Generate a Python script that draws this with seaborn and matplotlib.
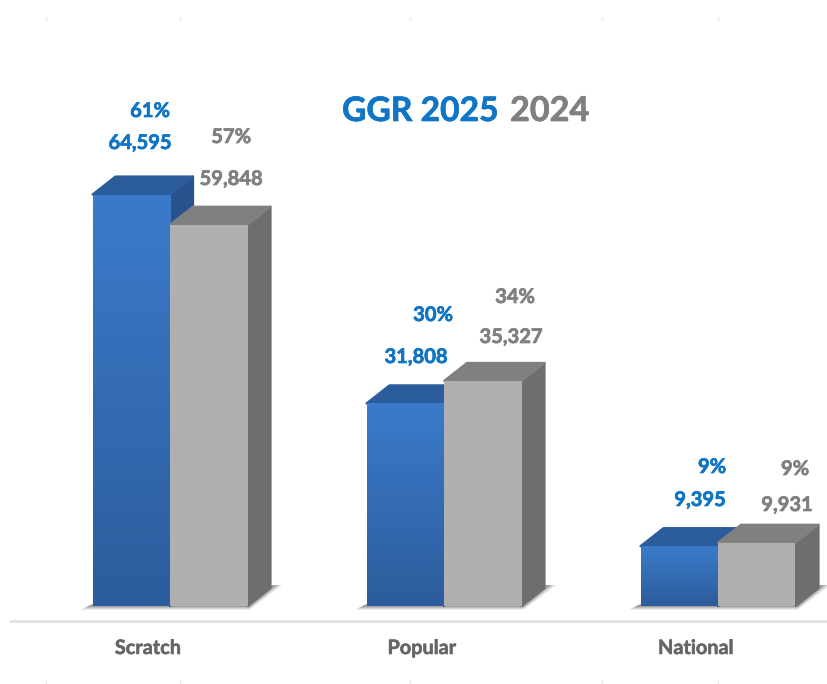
"""GGR 2025 vs 2024 by game, drawn as fake-3D columns on a seaborn bar chart."""

import matplotlib.patheffects as pe
import matplotlib.pyplot as plt
import numpy as np
import pandas as pd
import seaborn as sns
from matplotlib.colors import LinearSegmentedColormap
from matplotlib.patches import Polygon
from matplotlib.transforms import Affine2D

games = ["Scratch", "Popular", "National"]
ggr_2025 = [64595, 31808, 9395]
ggr_2024 = [59848, 35327, 9931]
share_2025 = ["61%", "30%", "9%"]
share_2024 = ["57%", "34%", "9%"]
value_labels_2025 = ["64,595", "31,808", "9,395"]
value_labels_2024 = ["59,848", "35,327", "9,931"]

W, H = 827, 684
BASE_Y = 606
PX_PER_UNIT = 0.00637
FIRST_X = 170
STEP_X = 274
DEPTH_X, DEPTH_Y = 23, 18

BLUE = "#0f75c4"
GREY = "#808080"
STYLES = {
    "2025": dict(side="#27528c", top="#2b5c9c", order=2),
    "2024": dict(side="#6e6e6e", top="#808080", order=4),
}


def main() -> None:
    sns.set_theme(style="white")
    plt.rcParams["font.family"] = ["Lato", "DejaVu Sans"]

    df = pd.DataFrame(
        {
            "game": games * 2,
            "ggr": ggr_2025 + ggr_2024,
            "year": ["2025"] * 3 + ["2024"] * 3,
        }
    )

    fig = plt.figure(figsize=(W / 100, H / 100), dpi=100)
    ax = fig.add_axes([0, 0, 1, 1])
    sns.barplot(
        data=df,
        x="game",
        y="ggr",
        hue="year",
        hue_order=["2025", "2024"],
        palette={"2025": "#3a78c8", "2024": "#b0b0b0"},
        width=155 / STEP_X,
        gap=0,
        saturation=1,
        legend=False,
        ax=ax,
    )
    ax.set_xlim(-FIRST_X / STEP_X, (W - FIRST_X) / STEP_X)
    ax.set_ylim(-(H - BASE_Y) / PX_PER_UNIT, BASE_Y / PX_PER_UNIT)
    ax.axis("off")

    to_px = ax.transData
    # pixel space with y measured from the top, same as the reference image
    px = Affine2D().scale(1, -1).translate(0, H)

    blue_map = LinearSegmentedColormap.from_list("bar", ["#3b7aca", "#2c5d9c"])

    for year, bars in zip(["2025", "2024"], ax.containers):
        style = STYLES[year]
        for bar in bars:
            bar.set_zorder(style["order"] + 1)
            bar.set_linewidth(0)
            x0, y1 = to_px.transform((bar.get_x(), bar.get_height()))
            x1, y0 = to_px.transform((bar.get_x() + bar.get_width(), 0))
            top_px, bot_px = H - y1, H - y0
            side = [
                (x1, top_px),
                (x1 + DEPTH_X, top_px - DEPTH_Y),
                (x1 + DEPTH_X, bot_px - DEPTH_Y),
                (x1, bot_px),
            ]
            lid = [
                (x0, top_px),
                (x0 + DEPTH_X, top_px - DEPTH_Y),
                (x1 + DEPTH_X, top_px - DEPTH_Y),
                (x1, top_px),
            ]
            ax.add_patch(Polygon(side, closed=True, transform=px, fc=style["side"],
                                 ec=style["side"], lw=1.6, joinstyle="round",
                                 zorder=style["order"]))
            ax.add_patch(Polygon(lid, closed=True, transform=px, fc=style["top"],
                                 ec=style["top"], lw=1.6, joinstyle="round",
                                 zorder=style["order"]))
            if year == "2025":
                grad = ax.imshow(
                    np.linspace(0, 1, 64).reshape(-1, 1),
                    cmap=blue_map,
                    aspect="auto",
                    extent=(bar.get_x(), bar.get_x() + bar.get_width(), 0, bar.get_height()),
                    zorder=style["order"] + 1.5,
                )
                grad.set_clip_path(bar)

    ax.set_xlim(-FIRST_X / STEP_X, (W - FIRST_X) / STEP_X)
    ax.set_ylim(-(H - BASE_Y) / PX_PER_UNIT, BASE_Y / PX_PER_UNIT)

    # soft floor shadow under each pair of columns
    for bar_l, bar_r in zip(ax.containers[0], ax.containers[1]):
        xa = to_px.transform((bar_l.get_x(), 0))[0]
        xb = to_px.transform((bar_r.get_x() + bar_r.get_width(), 0))[0]
        for grow, alpha in [(8, 0.10), (6, 0.14), (4, 0.20), (2, 0.28)]:
            shadow = [
                (xa - 4 - grow, BASE_Y + grow / 2),
                (xb + 2, BASE_Y + grow / 2),
                (xb + DEPTH_X + 4 + grow, BASE_Y - DEPTH_Y - 3),
                (xb + DEPTH_X, BASE_Y - DEPTH_Y - 3),
                (xb, BASE_Y - 2),
                (xa, BASE_Y - 2),
            ]
            ax.add_patch(Polygon(shadow, closed=True, transform=px, fc="#555555",
                                 ec="none", alpha=alpha, zorder=1))

    # axis line and the faint frame ticks
    ax.plot([10, W], [621, 621], transform=px, color="#e0e0e0", lw=1.8, zorder=1)
    for tick_x in [46, 180, 410, 602, 718]:
        ax.plot([tick_x, tick_x], [17, 20], transform=px, color="#e6e6e6", lw=1, zorder=1)
        ax.plot([tick_x, tick_x], [681, 684], transform=px, color="#e6e6e6", lw=1, zorder=1)

    label_pos = {
        "pct_2025": [(150, 111), (433, 315), (712, 467)],
        "val_2025": [(140, 143), (416, 357), (700, 500)],
        "pct_2024": [(231, 137), (515, 297), (795, 469)],
        "val_2024": [(231, 179), (511, 337), (787, 505)],
    }
    heavy = [pe.withStroke(linewidth=0.5, foreground=BLUE)]
    heavy_grey = [pe.withStroke(linewidth=0.5, foreground=GREY)]
    for key, labels, colour, effect in [
        ("pct_2025", share_2025, BLUE, heavy),
        ("val_2025", value_labels_2025, BLUE, heavy),
        ("pct_2024", share_2024, GREY, heavy_grey),
        ("val_2024", value_labels_2024, GREY, heavy_grey),
    ]:
        for (tx, ty), text in zip(label_pos[key], labels):
            ax.text(tx, ty, text, transform=px, color=colour, fontsize=14.5,
                    fontweight="bold", ha="center", va="center", zorder=10,
                    path_effects=effect)

    for name, tx in zip(games, [148, 422, 696]):
        ax.text(tx, 648, name, transform=px, color="#666666", fontsize=14.3,
                fontweight="bold", ha="center", va="center", zorder=10,
                path_effects=[pe.withStroke(linewidth=0.4, foreground="#666666")])

    ax.text(342, 111, "GGR 2025", transform=px, color=BLUE, fontsize=24.2,
            fontweight="bold", ha="left", va="center", zorder=10, path_effects=heavy)
    ax.text(510, 111, "2024", transform=px, color=GREY, fontsize=24.6,
            fontweight="bold", ha="left", va="center", zorder=10, path_effects=heavy_grey)

    fig.savefig("out.png", dpi=100)


if __name__ == "__main__":
    main()
